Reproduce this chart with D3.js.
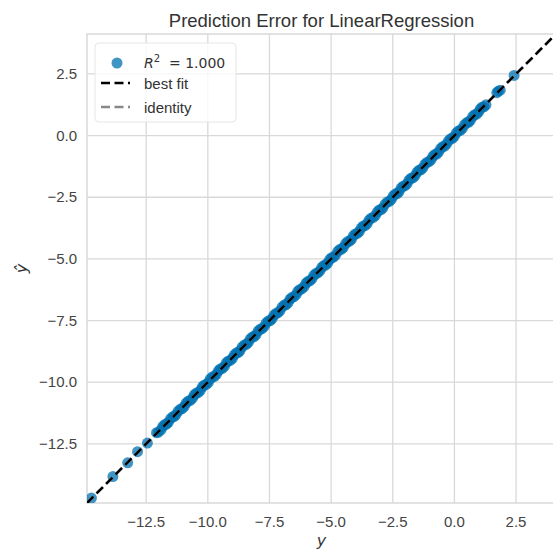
<!DOCTYPE html>
<html>
<head>
<meta charset="utf-8">
<script src="https://cdn.jsdelivr.net/npm/d3@7"></script>
<style>
  body { margin: 0; background: #fff; }
  svg { font-family: "Liberation Sans", Arial, sans-serif; }
</style>
</head>
<body>
<svg id="chart" width="553" height="549"></svg>
<script>
// ── Data ─────────────────────────────────────────────────────────────────────
const yTrue = [
  -14.72, -13.85, -13.25, -12.85, -12.45,
  -12.08, -11.90, -11.75, -11.60, -11.42, -11.30, -11.12, -10.95, -10.80, -10.62,
  -10.48, -10.30, -10.15, -9.98, -9.82, -9.65, -9.50, -9.33, -9.18, -9.00,
  -8.85, -8.70, -8.52, -8.36, -8.20, -8.05, -7.88, -7.72, -7.55, -7.40,
  -7.24, -7.08, -6.90, -6.75, -6.60, -6.42, -6.28, -6.10, -5.95, -5.78,
  -5.62, -5.46, -5.30, -5.14, -4.98, -4.82, -4.65, -4.50, -4.33, -4.18,
  -4.02, -3.86, -3.70, -3.54, -3.38, -3.20, -3.05, -2.90, -2.72, -2.56,
  -2.40, -2.25, -2.08, -1.92, -1.76, -1.60, -1.44, -1.28, -1.12, -0.95,
  -0.80, -0.64, -0.48, -0.32, -0.16, 0.00, 0.16, 0.32, 0.50, 0.65,
  0.82, 0.98, 1.12, 1.28,
  1.72, 1.86, 2.42,
  // second batch inside the dense band
  -12.00, -11.83, -11.67, -11.51, -11.36, -11.21, -11.04, -10.88, -10.71, -10.55,
  -10.39, -10.22, -10.06, -9.90, -9.73, -9.57, -9.41, -9.25, -9.09, -8.93,
  -8.77, -8.61, -8.44, -8.28, -8.12, -7.96, -7.80, -7.63, -7.47, -7.32,
  -7.16, -6.99, -6.83, -6.67, -6.51, -6.35, -6.19, -6.02, -5.86, -5.70,
  -5.54, -5.38, -5.22, -5.06, -4.90, -4.73, -4.57, -4.41, -4.25, -4.10,
  -3.94, -3.78, -3.62, -3.46, -3.29, -3.12, -2.97, -2.81, -2.64, -2.48,
  -2.32, -2.16, -2.00, -1.84, -1.68, -1.52, -1.36, -1.20, -1.03, -0.87,
  -0.72, -0.56, -0.40, -0.24, -0.08, 0.08, 0.24, 0.41, 0.57, 0.74,
  0.90, 1.05, 1.20, 1.78
];
const yPred = [
  -14.70, -13.83, -13.27, -12.82, -12.47,
  -12.05, -11.93, -11.72, -11.63, -11.40, -11.33, -11.10, -10.98, -10.77, -10.65,
  -10.45, -10.33, -10.12, -10.01, -9.79, -9.68, -9.47, -9.36, -9.15, -9.03,
  -8.82, -8.73, -8.49, -8.39, -8.17, -8.08, -7.85, -7.75, -7.52, -7.43,
  -7.21, -7.11, -6.87, -6.78, -6.57, -6.45, -6.25, -6.13, -5.92, -5.81,
  -5.59, -5.49, -5.27, -5.17, -4.95, -4.85, -4.62, -4.53, -4.30, -4.21,
  -3.99, -3.89, -3.67, -3.57, -3.35, -3.23, -3.02, -2.93, -2.69, -2.59,
  -2.37, -2.28, -2.05, -1.95, -1.73, -1.63, -1.41, -1.31, -1.09, -0.98,
  -0.77, -0.67, -0.45, -0.35, -0.13, -0.03, 0.19, 0.29, 0.53, 0.62,
  0.85, 0.95, 1.15, 1.25,
  1.74, 1.84, 2.44,
  -12.03, -11.80, -11.70, -11.48, -11.39, -11.18, -11.07, -10.85, -10.74, -10.52,
  -10.42, -10.19, -10.09, -9.87, -9.76, -9.54, -9.44, -9.22, -9.12, -8.90,
  -8.80, -8.58, -8.47, -8.25, -8.15, -7.93, -7.83, -7.60, -7.50, -7.29,
  -7.19, -6.96, -6.86, -6.64, -6.54, -6.32, -6.22, -5.99, -5.89, -5.67,
  -5.57, -5.35, -5.25, -5.03, -4.93, -4.70, -4.60, -4.38, -4.28, -4.07,
  -3.97, -3.75, -3.65, -3.43, -3.32, -3.09, -3.00, -2.78, -2.67, -2.45,
  -2.35, -2.13, -2.03, -1.81, -1.71, -1.49, -1.39, -1.17, -1.06, -0.84,
  -0.75, -0.53, -0.43, -0.21, -0.11, 0.11, 0.21, 0.44, 0.54, 0.77,
  0.87, 1.08, 1.17, 1.80
];
const xTicks = [-12.5, -10.0, -7.5, -5.0, -2.5, 0.0, 2.5];
const yTicks = [-12.5, -10.0, -7.5, -5.0, -2.5, 0.0, 2.5];
const axisLimits = [-14.9, 4.12];
const r2Label = "1.000";

// ── Layout ───────────────────────────────────────────────────────────────────
const svg = d3.select("#chart");
const L = 87, T = 34, W = 469, H = 469;

const x = d3.scaleLinear().domain(axisLimits).range([L, L + W]);
const y = d3.scaleLinear().domain(axisLimits).range([T + H, T]);
const fmt = d3.format(".1f");

const grid = "#d9d9d9";

// grid + spines
svg.append("g").selectAll("line").data(xTicks).join("line")
    .attr("x1", d => x(d)).attr("x2", d => x(d)).attr("y1", T).attr("y2", T + H)
    .attr("stroke", grid).attr("stroke-width", 1.3);
svg.append("g").selectAll("line").data(yTicks).join("line")
    .attr("y1", d => y(d)).attr("y2", d => y(d)).attr("x1", L).attr("x2", L + W)
    .attr("stroke", grid).attr("stroke-width", 1.3);
svg.append("rect").attr("x", L).attr("y", T).attr("width", W).attr("height", H)
    .attr("fill", "none").attr("stroke", grid).attr("stroke-width", 1.5);

// tick labels
svg.append("g").selectAll("text").data(xTicks).join("text")
    .attr("x", d => x(d)).attr("y", T + H + 24)
    .attr("text-anchor", "middle").attr("font-size", 15).attr("fill", "#444")
    .text(d => fmt(d));
svg.append("g").selectAll("text").data(yTicks).join("text")
    .attr("x", L - 10).attr("y", d => y(d) + 5)
    .attr("text-anchor", "end").attr("font-size", 15).attr("fill", "#444")
    .text(d => fmt(d));

// clip
svg.append("defs").append("clipPath").attr("id", "plot-clip")
    .append("rect").attr("x", L).attr("y", T).attr("width", W).attr("height", H);
const plot = svg.append("g").attr("clip-path", "url(#plot-clip)");

// points
plot.append("g").selectAll("circle").data(yTrue).join("circle")
    .attr("cx", d => x(d)).attr("cy", (d, i) => y(yPred[i]))
    .attr("r", 5.5).attr("fill", "#0072B2").attr("fill-opacity", 0.75);

// best fit (least squares)
const mx = d3.mean(yTrue), my = d3.mean(yPred);
const slope = d3.sum(yTrue, (d, i) => (d - mx) * (yPred[i] - my)) / d3.sum(yTrue, d => (d - mx) ** 2);
const icpt = my - slope * mx;

// identity
plot.append("line")
    .attr("x1", x(axisLimits[0])).attr("y1", y(axisLimits[0]))
    .attr("x2", x(axisLimits[1])).attr("y2", y(axisLimits[1]))
    .attr("stroke", "#888").attr("stroke-width", 2.5).attr("stroke-dasharray", "9,4.5");
plot.append("line")
    .attr("x1", x(axisLimits[0])).attr("y1", y(slope * axisLimits[0] + icpt))
    .attr("x2", x(axisLimits[1])).attr("y2", y(slope * axisLimits[1] + icpt))
    .attr("stroke", "#000").attr("stroke-width", 2.5).attr("stroke-dasharray", "9,4.5");

// ── Legend ──
const lg = svg.append("g").attr("transform", "translate(95,43)");
lg.append("rect").attr("width", 141).attr("height", 79).attr("rx", 4)
    .attr("fill", "#fff").attr("fill-opacity", 0.8).attr("stroke", "#e6e6e6");
lg.append("circle").attr("cx", 22).attr("cy", 20).attr("r", 5.5)
    .attr("fill", "#0072B2").attr("fill-opacity", 0.75);
const r2 = lg.append("text").attr("x", 49).attr("y", 25).attr("font-size", 14)
    .attr("font-family", "DejaVu Sans").attr("fill", "#333");
r2.append("tspan").attr("font-style", "italic").text("R");
r2.append("tspan").attr("font-size", 10).attr("dy", -6).text("2");
r2.append("tspan").attr("dy", 6).text("\u00a0 = " + r2Label);
lg.append("line").attr("x1", 6).attr("x2", 35).attr("y1", 40).attr("y2", 40)
    .attr("stroke", "#000").attr("stroke-width", 2.5).attr("stroke-dasharray", "9,4.5");
lg.append("text").attr("x", 49).attr("y", 46).attr("font-size", 15).attr("fill", "#333").text("best fit");
lg.append("line").attr("x1", 6).attr("x2", 35).attr("y1", 64).attr("y2", 64)
    .attr("stroke", "#888").attr("stroke-width", 2.5).attr("stroke-dasharray", "9,4.5");
lg.append("text").attr("x", 49).attr("y", 70).attr("font-size", 15).attr("fill", "#333").text("identity");

// ── Title & axis labels ──
svg.append("text").attr("x", L + W / 2).attr("y", 27)
    .attr("text-anchor", "middle").attr("font-size", 18.5).attr("fill", "#333")
    .text("Prediction Error for LinearRegression");
svg.append("text").attr("x", L + W / 2).attr("y", 546)
    .attr("text-anchor", "middle").attr("font-size", 16).attr("font-style", "italic")
    .attr("font-family", "DejaVu Sans").attr("fill", "#333").text("y");
svg.append("text").attr("transform", `translate(27,${T + H / 2}) rotate(-90)`)
    .attr("text-anchor", "middle").attr("font-size", 16).attr("font-style", "italic")
    .attr("font-family", "DejaVu Sans").attr("fill", "#333").text("\u0177");
</script>
</body>
</html>
